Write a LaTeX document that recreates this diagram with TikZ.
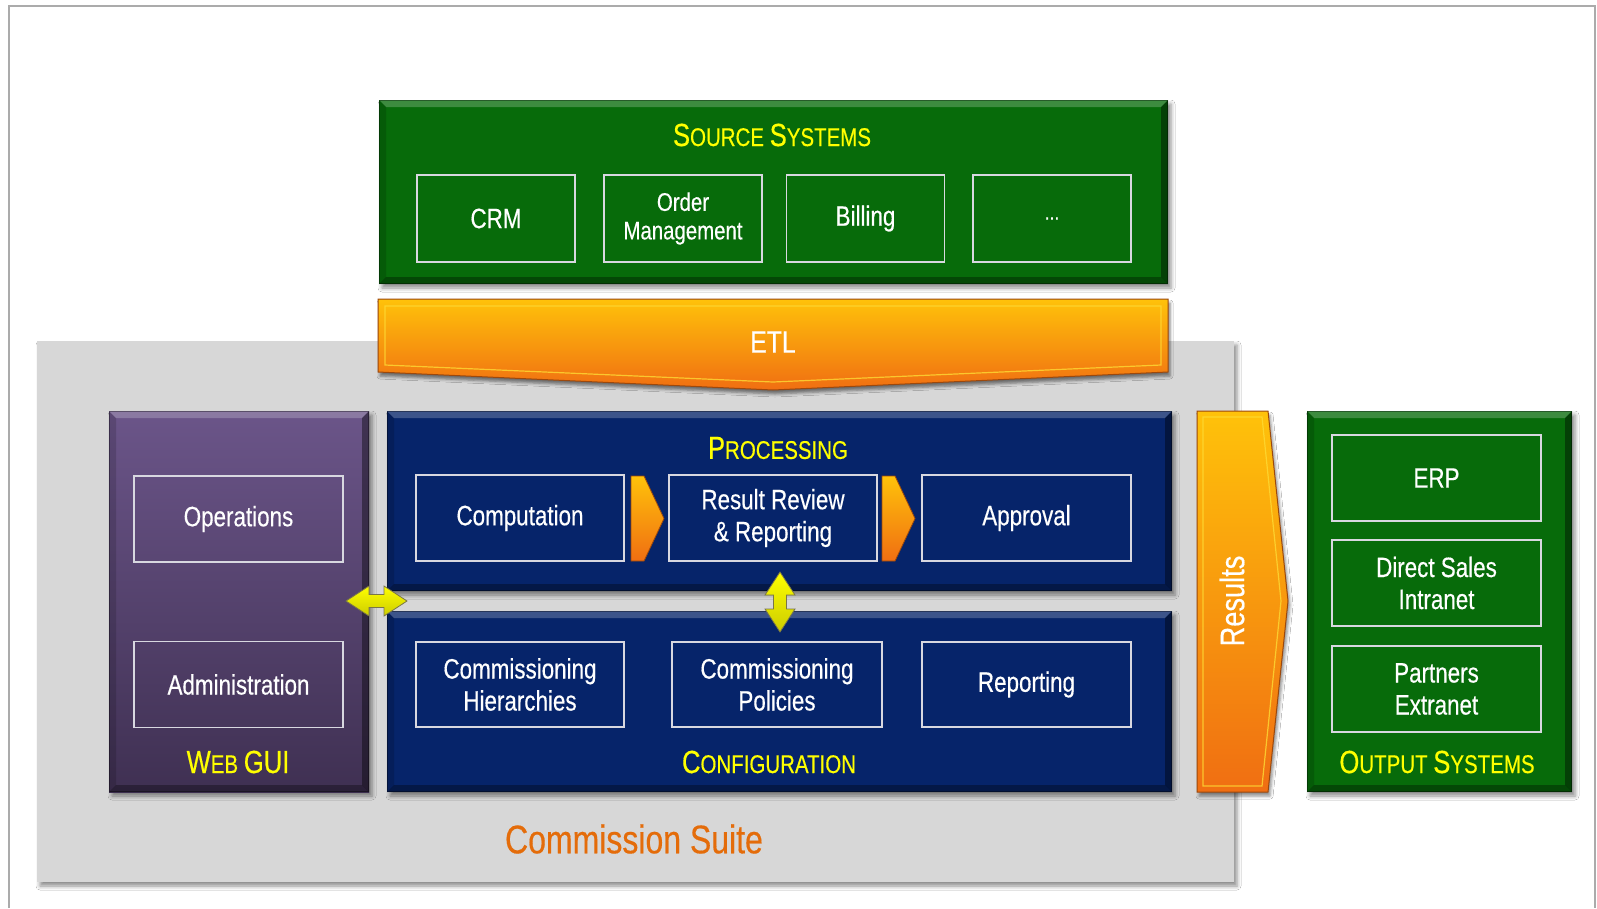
\documentclass[tikz,border=0pt]{standalone}
\usepackage{fontspec}
\setmainfont{Liberation Sans}[FakeStretch=0.8,FakeBold=0.4]
\usetikzlibrary{shadows.blur,calc}
\definecolor{grn}{HTML}{076B0A}
\definecolor{navy}{HTML}{06246A}
\definecolor{purT}{HTML}{6B5589}
\definecolor{purB}{HTML}{3F3052}
\definecolor{orT}{HTML}{FFC20A}
\definecolor{orB}{HTML}{F06E12}
\definecolor{ttl}{HTML}{FFFF00}
\definecolor{suite}{HTML}{D7D7D7}
\definecolor{suiteTxt}{HTML}{E46C0A}
\definecolor{framec}{HTML}{ABABAB}
\definecolor{boxline}{HTML}{D8D8E0}

\newcommand\bigsc[2]{{\fontsize{32}{36}\selectfont #1}{\fontsize{25.6}{30}\selectfont #2}}
\newcommand\bevelit[1]{%
 \fill[white,opacity=.22] (#1.north west) -- (#1.north east) -- ([xshift=-7pt,yshift=-7pt]#1.north east) -- ([xshift=7pt,yshift=-7pt]#1.north west) -- cycle;
 \fill[black,opacity=.15] (#1.north west) -- ([xshift=7pt,yshift=-7pt]#1.north west) -- ([xshift=7pt,yshift=7pt]#1.south west) -- (#1.south west) -- cycle;
 \fill[black,opacity=.40] (#1.north east) -- (#1.south east) -- ([xshift=-7pt,yshift=7pt]#1.south east) -- ([xshift=-7pt,yshift=-7pt]#1.north east) -- cycle;
 \fill[black,opacity=.32] (#1.south west) -- ([xshift=7pt,yshift=7pt]#1.south west) -- ([xshift=-7pt,yshift=7pt]#1.south east) -- (#1.south east) -- cycle;
 \draw[black,opacity=.35,line width=1pt] ([xshift=.5pt,yshift=-.5pt]#1.north west) rectangle ([xshift=-.5pt,yshift=.5pt]#1.south east);
}

\tikzset{
  panel/.style={rectangle, inner sep=0, outer sep=0,
    blur shadow={shadow xshift=3pt, shadow yshift=-4pt, shadow blur radius=4pt, shadow opacity=45}},
  box/.style={draw=boxline, line width=1.2pt, inner sep=0, outer sep=0,
    minimum width=208, minimum height=86, align=center, text=white,
    font=\fontsize{28}{32}\selectfont},
  ttlsty/.style={text=ttl, font=\fontsize{25.6}{30}\selectfont, inner sep=0},
  orshape/.style={top color=orT, bottom color=orB, draw=orB!65!black, line width=1pt},
  yarrow/.style={top color=ttl, bottom color=yellow!80!black, draw=yellow!40!black, line width=0.8pt},
}

\begin{document}
\begin{tikzpicture}[x=1pt,y=-1pt]
\useasboundingbox (0,0) rectangle (1597,908);
\fill[white] (0,0) rectangle (1597,908);
\draw[framec, line width=2pt] (9,908) -- (9,5.5) -- (1595,5.5) -- (1595,908);

% Commission suite background
\node[panel, fill=suite, minimum width=1197, minimum height=541] (suite) at (635.5,611.5) {};
\node[text=suiteTxt, font=\fontsize{40}{44}\selectfont, inner sep=0] (suitelbl) at (634,839) {Commission Suite};

% Source systems
\node[panel, fill=grn, minimum width=789, minimum height=184] (src) at (773.5,192) {};
\bevelit{src}
\node[ttlsty] (srcttl) at (772,135) {\bigsc{S}{OURCE} \bigsc{S}{YSTEMS}};
\node[box, minimum width=158, minimum height=87] (crm) at (496,218.5) {CRM};
\node[box, minimum width=158, minimum height=87, font=\fontsize{25.5}{28.5}\selectfont] (order) at (683,218.5) {Order\\Management};
\node[box, minimum width=158, minimum height=87] (billing) at (865.5,218.5) {Billing};
\node[box, minimum width=158, minimum height=87, font=\fontsize{22}{26}\selectfont] (more) at (1052,218.5) {...};

% ETL
\shade[orshape, blur shadow={shadow xshift=2pt, shadow yshift=-4pt, shadow blur radius=3pt, shadow opacity=50}]
  (378,299) -- (1168,299) -- (1168,372) -- (773,390) -- (378,372) -- cycle;
\draw[yellow!70!orange!80!white, line width=1.2pt, opacity=.8]
  (385,306) -- (1161,306) -- (1161,365) -- (773,382) -- (385,365) -- cycle;
\node[text=white, font=\fontsize{31}{34}\selectfont, inner sep=0] (etl) at (773,342) {ETL};

% Web GUI
\node[panel, top color=purT, bottom color=purB, minimum width=260, minimum height=381] (webgui) at (239,601.5) {};
\bevelit{webgui}
\node[box, minimum width=209] (ops) at (238.5,519) {Operations};
\node[box, minimum width=209] (admin) at (238.5,684.5) {Administration};
\node[ttlsty] (webttl) at (238,762) {\bigsc{W}{EB} {\fontsize{32}{36}\selectfont GUI}};

% Processing
\node[panel, fill=navy, minimum width=785, minimum height=180] (proc) at (779.5,501) {};
\bevelit{proc}
\node[ttlsty] (procttl) at (778,448) {\bigsc{P}{ROCESSING}};
\node[box] (comp) at (520,518) {Computation};
\node[box] (review) at (773,518) {Result Review\\\& Reporting};
\node[box, minimum width=209] (approval) at (1026.5,518) {Approval};
\shade[orshape, line width=0.8pt] (631,476) -- (644,476) -- (664,518.5) -- (644,561) -- (631,561) -- cycle;
\shade[orshape, line width=0.8pt] (882,476) -- (895,476) -- (915,518.5) -- (895,561) -- (882,561) -- cycle;

% Configuration
\node[panel, fill=navy, minimum width=785, minimum height=181] (config) at (779.5,701.5) {};
\bevelit{config}
\node[box, minimum height=85] (hier) at (520,684.5) {Commissioning\\Hierarchies};
\node[box, minimum width=210, minimum height=85] (policies) at (777,684.5) {Commissioning\\Policies};
\node[box, minimum width=209, minimum height=85] (reporting) at (1026.5,684.5) {Reporting};
\node[ttlsty] (configttl) at (769,762) {\bigsc{C}{ONFIGURATION}};

% Yellow double arrows
\shade[yarrow] (346,601) -- (369,586) -- (369,594.5) -- (384,594.5) -- (384,586) -- (407,601)
  -- (384,616) -- (384,607.5) -- (369,607.5) -- (369,616) -- cycle;
\shade[yarrow] (780,572) -- (795,595) -- (786.5,595) -- (786.5,609) -- (795,609) -- (780,632)
  -- (765,609) -- (773.5,609) -- (773.5,595) -- (765,595) -- cycle;

% Results arrow
\shade[orshape, blur shadow={shadow xshift=2pt, shadow yshift=-4pt, shadow blur radius=3pt, shadow opacity=45}]
  (1197,411) -- (1268,411) -- (1288,601) -- (1268,792) -- (1197,792) -- cycle;
\draw[yellow!70!orange!80!white, line width=1.2pt, opacity=.8]
  (1203,417) -- (1262,417) -- (1281,601) -- (1262,786) -- (1203,786) -- cycle;
\node[rotate=90, text=white, font=\fontsize{34}{38}\selectfont, inner sep=0] (results) at (1232,601) {Results};

% Output systems
\node[panel, fill=grn, minimum width=265, minimum height=381] (out) at (1439.5,601.5) {};
\bevelit{out}
\node[box, minimum width=209] (erp) at (1436.5,478) {ERP};
\node[box, minimum width=209] (direct) at (1436.5,583) {Direct Sales\\Intranet};
\node[box, minimum width=209] (partners) at (1436.5,689) {Partners\\Extranet};
\node[ttlsty] (outttl) at (1437,762) {\bigsc{O}{UTPUT} \bigsc{S}{YSTEMS}};
\end{tikzpicture}
\end{document}
